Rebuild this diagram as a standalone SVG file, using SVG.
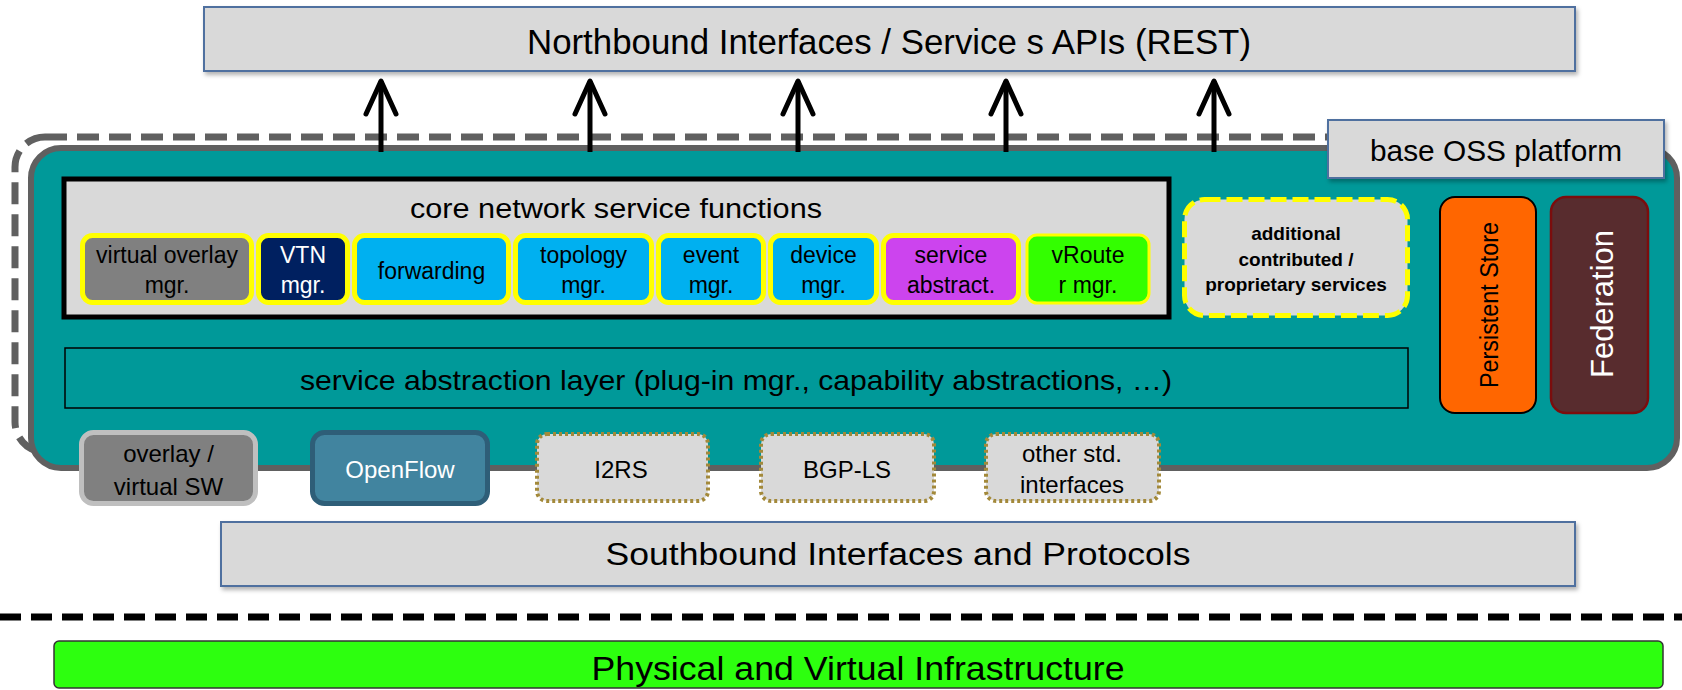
<svg xmlns="http://www.w3.org/2000/svg" width="1682" height="690" viewBox="0 0 1682 690">
<defs>
<filter id="sh" x="-5%" y="-20%" width="110%" height="150%"><feDropShadow dx="2" dy="3" stdDeviation="2" flood-color="#000" flood-opacity="0.3"/></filter>
<marker id="ah" markerUnits="userSpaceOnUse" viewBox="-40 -20 44 40" refX="0" refY="0" markerWidth="44" markerHeight="40" orient="auto"><path d="M -33,-15 L 0,0 L -33,15" fill="none" stroke="#000" stroke-width="5" stroke-linecap="round" stroke-linejoin="round"/></marker>
</defs>
<style>
text{font-family:"Liberation Sans",Arial,sans-serif;fill:#000;text-anchor:middle}
.lbl{font-size:23px}
.blbl{font-size:24px}
.gbox{fill:#d9d9d9;stroke:#4f6f9f;stroke-width:2;filter:url(#sh)}
.sub{stroke:#ffff00;stroke-width:5}
.cyan{fill:#00b0f0}
.dot{fill:#d9d9d9;stroke:#a3893a;stroke-width:4;stroke-dasharray:3 3}
.arrow{stroke:#000;stroke-width:5;fill:none;marker-end:url(#ah)}
</style>
<rect width="1682" height="690" fill="#fff"/>

<g id="oss-boundary"><rect x="15" y="137" width="1625" height="315" rx="30" fill="none" stroke="#606060" stroke-width="7" stroke-dasharray="22 10"/></g>

<g id="platform"><rect x="31" y="148" width="1646" height="320" rx="30" fill="#009999" stroke="#606060" stroke-width="6"/></g>

<g id="connectors">
<path class="arrow" d="M 381,152 V 81"/>
<path class="arrow" d="M 590,152 V 81"/>
<path class="arrow" d="M 798,152 V 81"/>
<path class="arrow" d="M 1006,152 V 81"/>
<path class="arrow" d="M 1214,152 V 81"/>
</g>

<g id="northbound"><rect class="gbox" x="204" y="7" width="1371" height="64"/><text x="889" y="54" font-size="35" textLength="724" lengthAdjust="spacingAndGlyphs">Northbound Interfaces / Service s APIs (REST)</text></g>

<g id="base-oss"><rect class="gbox" x="1328" y="120" width="336" height="58"/><text x="1496" y="161" font-size="30" textLength="252" lengthAdjust="spacingAndGlyphs">base OSS platform</text></g>

<g id="core"><rect x="64" y="179" width="1105" height="138" fill="#d9d9d9" stroke="#000" stroke-width="5"/><text x="616" y="218" font-size="27" textLength="412" lengthAdjust="spacingAndGlyphs">core network service functions</text></g>

<g id="virtual-overlay"><rect class="sub" x="82.5" y="235.5" width="169" height="67" rx="10" fill="#808080"/><text class="lbl" x="167" y="263">virtual overlay<tspan x="167" y="293">mgr.</tspan></text></g>
<g id="vtn"><rect class="sub" x="258.5" y="235.5" width="89" height="67" rx="10" fill="#002060"/><text class="lbl" x="303" y="263" style="fill:#fff">VTN<tspan x="303" y="293" style="fill:#fff">mgr.</tspan></text></g>
<g id="forwarding"><rect class="sub cyan" x="354.5" y="235.5" width="154" height="67" rx="10"/><text class="lbl" x="431.5" y="279">forwarding</text></g>
<g id="topology"><rect class="sub cyan" x="515.5" y="235.5" width="136" height="67" rx="10"/><text class="lbl" x="583.5" y="263">topology<tspan x="583.5" y="293">mgr.</tspan></text></g>
<g id="event"><rect class="sub cyan" x="658.5" y="235.5" width="105" height="67" rx="10"/><text class="lbl" x="711" y="263">event<tspan x="711" y="293">mgr.</tspan></text></g>
<g id="device"><rect class="sub cyan" x="770.5" y="235.5" width="106" height="67" rx="10"/><text class="lbl" x="823.5" y="263">device<tspan x="823.5" y="293">mgr.</tspan></text></g>
<g id="service-abstract"><rect class="sub" x="883.5" y="235.5" width="135" height="67" rx="10" fill="#cc44ee"/><text class="lbl" x="951" y="263">service<tspan x="951" y="293">abstract.</tspan></text></g>
<g id="vrouter"><rect x="1027" y="235" width="122" height="68" rx="10" fill="#33ff00" stroke="#ffff00" stroke-width="3"/><text class="lbl" x="1088" y="263">vRoute<tspan x="1088" y="293">r mgr.</tspan></text></g>

<g id="additional"><rect x="1184.5" y="199.5" width="223" height="116" rx="20" fill="#d9d9d9" stroke="#ffff00" stroke-width="5" stroke-dasharray="16 6"/><text x="1296" y="240" font-size="19" font-weight="bold">additional<tspan x="1296" y="266">contributed /</tspan><tspan x="1296" y="291">proprietary services</tspan></text></g>

<g id="persistent-store"><rect x="1440" y="197" width="96" height="216" rx="15" fill="#ff6600" stroke="#000" stroke-width="2"/><text transform="translate(1498,305) rotate(-90)" font-size="25" textLength="166" lengthAdjust="spacingAndGlyphs">Persistent Store</text></g>

<g id="federation"><rect x="1551" y="197" width="97" height="216" rx="15" fill="#582c2e" stroke="#7b0d0d" stroke-width="2.5"/><text transform="translate(1613,304) rotate(-90)" font-size="32" textLength="148" lengthAdjust="spacingAndGlyphs" style="fill:#fff">Federation</text></g>

<g id="sal"><rect x="65" y="348" width="1343" height="60" fill="none" stroke="#000" stroke-width="1.5"/><text x="736" y="390" font-size="28" textLength="872" lengthAdjust="spacingAndGlyphs">service abstraction layer (plug-in mgr., capability abstractions, …)</text></g>

<g id="overlay-sw"><rect x="81.5" y="432.5" width="174" height="71" rx="12" fill="#808080" stroke="#bfbfbf" stroke-width="5"/><text class="blbl" x="168.5" y="462">overlay /<tspan x="168.5" y="495">virtual SW</tspan></text></g>
<g id="openflow"><rect x="312.5" y="432.5" width="175" height="71" rx="12" fill="#41849f" stroke="#2e5e78" stroke-width="5"/><text class="blbl" x="400" y="478" style="fill:#fff">OpenFlow</text></g>
<g id="i2rs"><rect class="dot" x="537" y="434" width="171" height="67" rx="10"/><text class="blbl" x="621" y="478">I2RS</text></g>
<g id="bgp-ls"><rect class="dot" x="761" y="434" width="173" height="67" rx="10"/><text class="blbl" x="847" y="478">BGP-LS</text></g>
<g id="other-std"><rect class="dot" x="986" y="434" width="173" height="67" rx="10"/><text class="blbl" x="1072" y="462">other std.<tspan x="1072" y="493">interfaces</tspan></text></g>

<g id="southbound"><rect class="gbox" x="221" y="522" width="1354" height="64"/><text x="898" y="565" font-size="31" textLength="585" lengthAdjust="spacingAndGlyphs">Southbound Interfaces and Protocols</text></g>

<g id="separator"><line x1="0" y1="617" x2="1682" y2="617" stroke="#000" stroke-width="7" stroke-dasharray="21 10"/></g>

<g id="infrastructure"><rect x="54" y="641" width="1609" height="47" rx="5" fill="#2dff0f" stroke="#333" stroke-width="1.5"/><text x="858" y="680" font-size="34" textLength="533" lengthAdjust="spacingAndGlyphs">Physical and Virtual Infrastructure</text></g>
</svg>
